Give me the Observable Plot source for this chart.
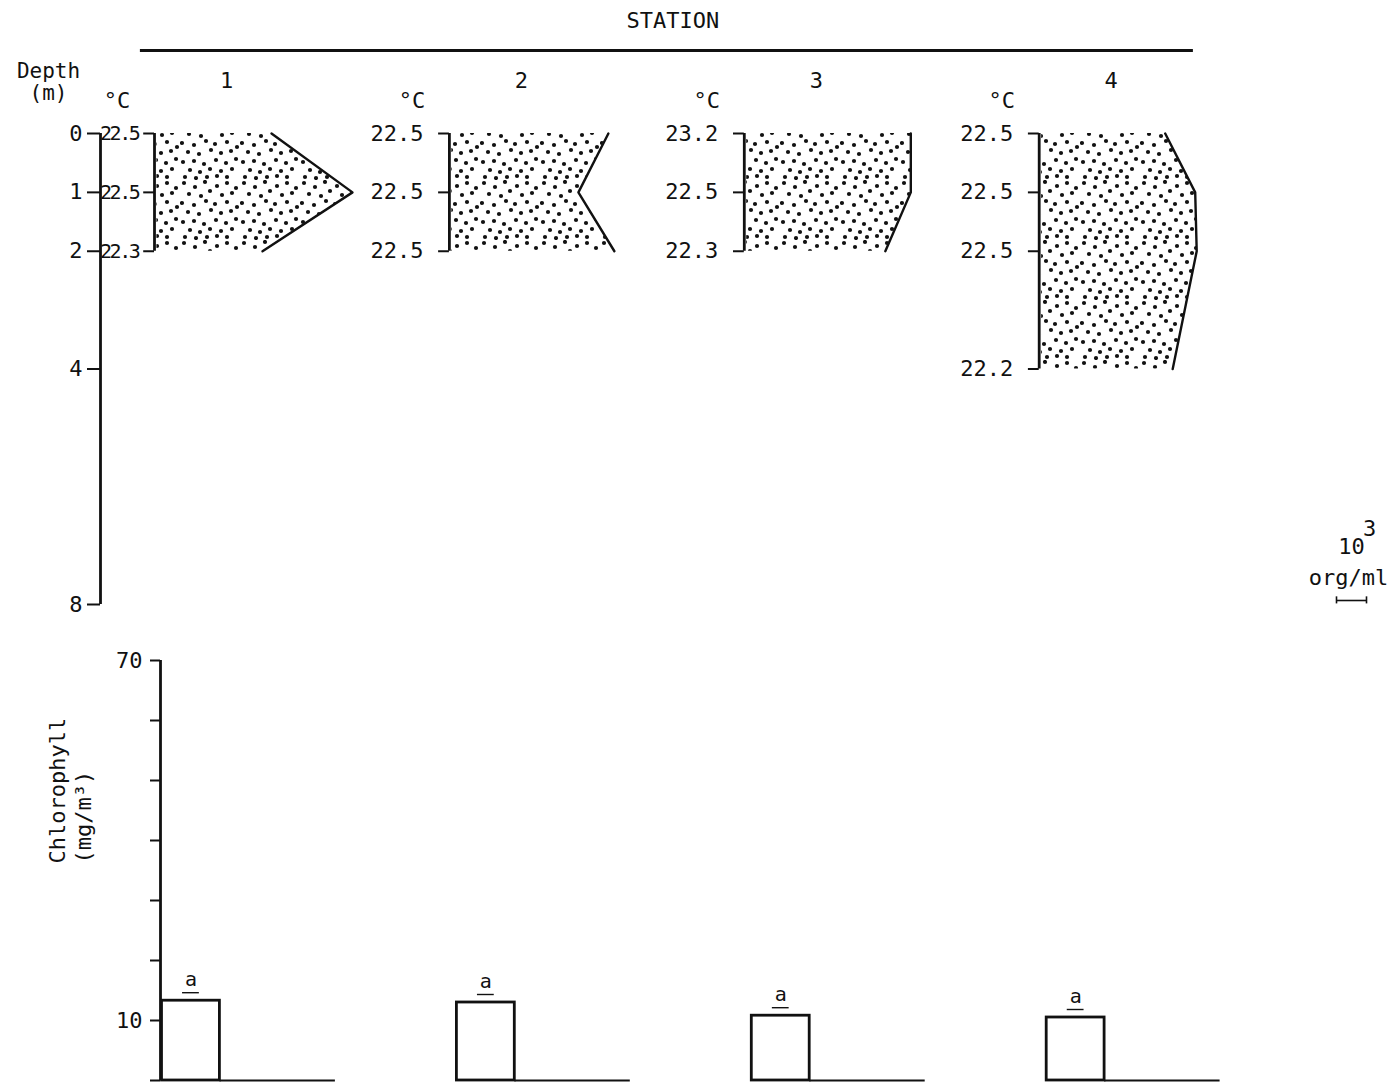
<!DOCTYPE html>
<html><head><meta charset="utf-8">
<script src="https://cdn.jsdelivr.net/npm/d3@7"></script>
<script src="https://cdn.jsdelivr.net/npm/@observablehq/plot@0.6"></script>
<style>
html,body{margin:0;padding:0;background:#fff;}
#chart{width:1400px;height:1085px;overflow:hidden;}
#chart svg{display:block;}
</style></head><body><div id="chart"></div>
<script>
// ---------- data ----------
const stations = [1, 2, 3, 4];
const depths = [[0, 1, 2], [0, 1, 2], [0, 1, 2], [0, 1, 2, 4]];             // m
const temps = [["22.5", "22.5", "22.3"], ["22.5", "22.5", "22.5"], ["23.2", "22.5", "22.3"], ["22.5", "22.5", "22.5", "22.2"]]; // °C
const abundance = [[3.9, 6.6, 3.6], [5.3, 4.3, 5.5], [5.55, 5.55, 4.7], [4.2, 5.2, 5.25, 4.45]]; // 10^3 org/ml
const depthTicks = [0, 1, 2, 4, 8];
const chlorophyllA = [13.3, 13.0, 10.8, 10.5];                               // mg/m^3
const chlTicks = [0, 10, 20, 30, 40, 50, 60, 70];
const chlTickLabels = [10, 70];

// ---------- layout ----------
const W = 1400;
const unitPx = 30;                 // px per 10^3 org/ml (scale bar)
const xMax = (W - 100) / unitPx;
const firstBase = 1.8, gap = 9.83;
const base = stations.map((s, i) => firstBase + i * gap);
const FONT = "DejaVu Sans Mono, Liberation Mono, monospace";
const INK = "#111";
const scaleX = 41.2;               // left end of the 10^3 org/ml scale bar

const profile = stations.flatMap((s, i) => depths[i].map((d, j) => ({
  station: s, i, depth: d, temp: temps[i][j], value: abundance[i][j]
})));

// ---------- top panel: depth profiles ----------
const topSvg = Plot.plot({
  width: W, height: 640,
  marginLeft: 100, marginRight: 0, marginTop: 133, marginBottom: 36,
  style: {fontFamily: FONT, fontSize: "22px", color: INK, background: "white"},
  x: {domain: [0, xMax], axis: null},
  y: {domain: [0, 8], reverse: true, axis: null},
  marks: [
    // stippled abundance profiles
    Plot.areaX(profile, {y: "depth", x1: d => base[d.i] + 0.08, x2: d => base[d.i] + d.value, z: "station", fill: "url(#stipple)"}),
    Plot.lineX(profile, {y: "depth", x: d => base[d.i] + d.value, z: "station", stroke: INK, strokeWidth: 2.4}),
    // brackets
    Plot.ruleX(stations, {x: (s, i) => base[i], y1: 0, y2: (s, i) => d3.max(depths[i]), stroke: INK, strokeWidth: 2.8}),
    Plot.ruleY(profile, {y: "depth", x1: d => base[d.i] - 0.36, x2: d => base[d.i], stroke: INK, strokeWidth: 2}),
    // temperature labels
    Plot.text(profile.filter(d => d.i === 0), {x: d => base[d.i], y: "depth", text: "temp", dx: -16, textAnchor: "end", fontFamily: "DejaVu Sans Mono", fontSize: 20}),
    Plot.text(profile.filter(d => d.i > 0), {x: d => base[d.i], y: "depth", text: "temp", dx: -26, textAnchor: "end"}),
    Plot.text(stations, {x: (s, i) => base[i] - 1.25, y: 0, dy: -33, text: () => "°C"}),
    // depth axis
    Plot.ruleX([0], {y1: 0, y2: 8, stroke: INK, strokeWidth: 2.8}),
    Plot.axisY({ticks: depthTicks, tickSize: 13, tickPadding: 5, tickFormat: d => String(d), label: null, strokeWidth: 2, stroke: INK}),
    Plot.text(["Depth"], {x: 0, y: 0, dx: -52, dy: -62, fontSize: 21}),
    Plot.text(["(m)"], {x: 0, y: 0, dx: -52, dy: -40, fontSize: 21}),
    // station header
    Plot.text(["STATION"], {x: (base[0] - 0.47 + base[3] + 5.14) / 2, y: 0, dx: 6, dy: -113}),
    Plot.ruleY([0], {x1: base[0] - 0.47, x2: base[3] + 5.14, dy: -83, stroke: INK, strokeWidth: 3}),
    Plot.text(stations, {x: (s, i) => base[i] + 2.4, y: 0, dy: -53, text: s => String(s)}),
    // scale bar: 10^3 org/ml
    Plot.ruleY([8], {x1: scaleX, x2: scaleX + 1, dy: -4, stroke: INK, strokeWidth: 1.6}),
    Plot.ruleX([scaleX, scaleX + 1], {y1: 7.87, y2: 7.99, stroke: INK, strokeWidth: 1.6}),
    Plot.text(["10"], {x: scaleX + 0.5, y: 8, dy: -58}),
    Plot.text(["3"], {x: scaleX + 1.1, y: 8, dy: -76}),
    Plot.text(["org/ml"], {x: scaleX + 0.4, y: 8, dy: -27})
  ]
});

// stipple pattern (fixed, hand-placed irregular dot tile)
const dots = [
  [4,3],[15,7],[25,2],[37,6],[47,3],[56,8],
  [9,14],[21,16],[30,11],[42,15],[52,13],
  [2,23],[14,25],[26,21],[35,24],[47,22],[57,27],
  [8,32],[19,34],[31,30],[41,33],[51,31],
  [3,42],[14,41],[24,44],[36,40],[46,43],[56,39],
  [10,50],[20,52],[30,49],[41,51],[52,49],
  [5,57],[16,58],[27,57],[37,56],[47,57]
];
d3.select(topSvg).insert("defs", ":first-child").html(
  `<pattern id="stipple" patternUnits="userSpaceOnUse" width="60" height="60">` +
  dots.map(([x, y]) => `<circle cx="${x}" cy="${y}" r="2.1" fill="${INK}"/>`).join("") +
  `</pattern>`
);
d3.select(topSvg).selectAll('g[font-family="DejaVu Sans Mono"] text').style("letter-spacing", "-2.4px");

// ---------- bottom panel: chlorophyll ----------
const barW = 1.93, runW = 3.85, barOff = 0.25;
const barCenter = i => base[i] + barOff + barW / 2;
const bottomSvg = Plot.plot({
  width: W, height: 445,
  marginLeft: 160, marginRight: 0, marginTop: 20, marginBottom: 5,
  style: {fontFamily: FONT, fontSize: "22px", color: INK, background: "white"},
  x: {domain: [2, xMax], axis: null},
  y: {domain: [0, 70], axis: null},
  marks: [
    Plot.ruleX([2], {y1: 0, y2: 70, stroke: INK, strokeWidth: 2.8}),
    Plot.axisY({ticks: chlTicks, tickSize: 10, tickPadding: 8, strokeWidth: 2, stroke: INK, label: null,
      tickFormat: d => chlTickLabels.includes(d) ? String(d) : ""}),
    Plot.rect(stations, {x1: (s, i) => base[i] + barOff, x2: (s, i) => base[i] + barOff + barW,
      y1: 0, y2: (s, i) => chlorophyllA[i], fill: "white", stroke: INK, strokeWidth: 2.8}),
    Plot.ruleY(stations, {y: 0, x1: (s, i) => base[i] + barOff + barW, x2: (s, i) => base[i] + barOff + barW + runW, stroke: INK, strokeWidth: 2}),
    Plot.text(stations, {x: (s, i) => barCenter(i), y: (s, i) => chlorophyllA[i], dy: -21, text: () => "a", fontSize: 20}),
    Plot.ruleY(stations, {y: (s, i) => chlorophyllA[i], dy: -8, x1: (s, i) => barCenter(i) - 0.28, x2: (s, i) => barCenter(i) + 0.28, stroke: INK, strokeWidth: 1.4}),
    Plot.text(["Chlorophyll\n(mg/m³)"], {frameAnchor: "left", dx: -91, dy: -7, rotate: -90, lineHeight: 1.2})
  ]
});

const chart = document.getElementById("chart");
chart.appendChild(topSvg);
chart.appendChild(bottomSvg);
</script></body></html>
